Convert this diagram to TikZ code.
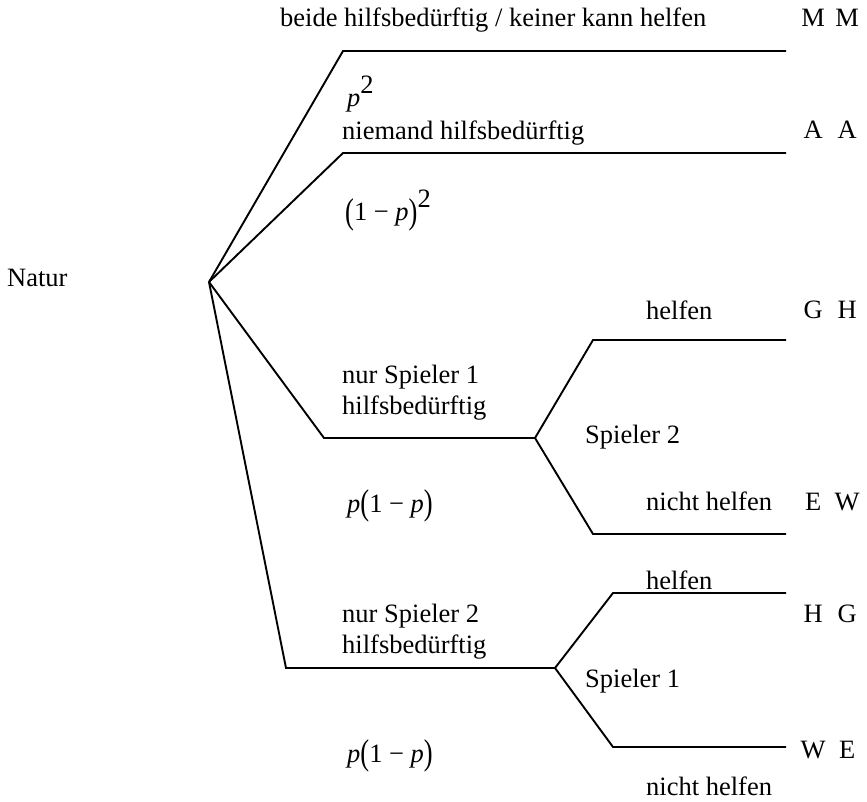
\documentclass[tikz,border=0pt]{standalone}
\usepackage{fontspec}
\setmainfont{Liberation Serif}
\usepackage{graphicx}
\newcommand{\hoch}[1]{\raisebox{0.5em}{#1}}
\newcommand{\gpar}[1]{\raisebox{-0.08em}{\scalebox{1}[1.35]{#1}}}
\newcommand{\pay}[2]{\makebox[34pt]{#1}\makebox[34pt]{#2}}

\begin{document}
\begin{tikzpicture}[x=1pt,y=-1pt,
	ast/.style={line width=1.9pt,line join=miter},
	txt/.style={anchor=base west,inner sep=0pt,font=\fontsize{26.5}{31}\selectfont}]
	\useasboundingbox (0,0) rectangle (867,802);
	
	\coordinate (nat) at (209,282);
	\coordinate (k1) at (343,51);  \coordinate (e1) at (786,51);
	\coordinate (k2) at (343,153); \coordinate (e2) at (786,153);
	\coordinate (k3) at (324,438); \coordinate (sp2) at (535,438);
	\coordinate (k4) at (286,668); \coordinate (sp1) at (555,668);
	\coordinate (k5) at (593,340); \coordinate (e5) at (786,340);
	\coordinate (k6) at (593,534); \coordinate (e6) at (786,534);
	\coordinate (k7) at (613,593); \coordinate (e7) at (786,593);
	\coordinate (k8) at (613,747); \coordinate (e8) at (786,747);
	
	\draw[ast] (nat) -- (k1) -- (e1);
	\draw[ast] (nat) -- (k2) -- (e2);
	\draw[ast] (nat) -- (k3) -- (sp2);
	\draw[ast] (nat) -- (k4) -- (sp1);
	\draw[ast] (sp2) -- (k5) -- (e5);
	\draw[ast] (sp2) -- (k6) -- (e6);
	\draw[ast] (sp1) -- (k7) -- (e7);
	\draw[ast] (sp1) -- (k8) -- (e8);
	
	\node[txt] (natur) at (7,287) {Natur};
	\node[txt] (beide) at (280,27) {beide hilfsbedürftig / keiner kann helfen};
	\node[txt] (mm) at (796,27) {\pay{M}{M}};
	\node[txt] (p2) at (347,107) {\textit{p}\hoch{2}};
	\node[txt] (niemand) at (342,140) {niemand hilfsbedürftig};
	\node[txt] (aa) at (796,139) {\pay{A}{A}};
	\node[txt] (q2) at (345,221) {\gpar{(}1 − \textit{p}\gpar{)}\hoch{2}};
	
	\node[txt] (help2) at (646,319) {helfen};
	\node[txt] (gh) at (796,318) {\pay{G}{H}};
	\node[txt] (nur1a) at (342,383) {nur Spieler 1};
	\node[txt] (nur1b) at (342,414) {hilfsbedürftig};
	\node[txt] (spieler2) at (585,443) {Spieler 2};
	\node[txt] (pq1) at (347,512) {\textit{p}\gpar{(}1 − \textit{p}\gpar{)}};
	\node[txt] (nicht2) at (646,510) {nicht helfen};
	\node[txt] (ew) at (796,510) {\pay{E}{W}};
	
	\node[txt] (help1) at (646,589) {helfen};
	\node[txt] (hg) at (796,622) {\pay{H}{G}};
	\node[txt] (nur2a) at (342,622) {nur Spieler 2};
	\node[txt] (nur2b) at (342,653) {hilfsbedürftig};
	\node[txt] (spieler1) at (585,687) {Spieler 1};
	\node[txt] (pq2) at (347,762) {\textit{p}\gpar{(}1 − \textit{p}\gpar{)}};
	\node[txt] (we) at (796,758) {\pay{W}{E}};
	\node[txt] (nicht1) at (646,795) {nicht helfen};
\end{tikzpicture}
\end{document}
